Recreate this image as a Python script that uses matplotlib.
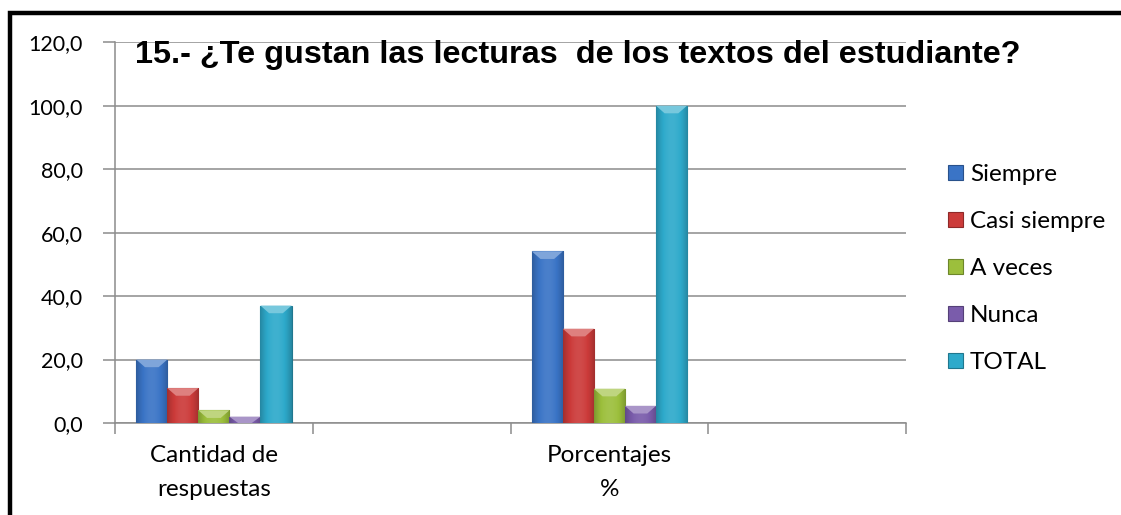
import numpy as np
import matplotlib
matplotlib.use("Agg")
import matplotlib.pyplot as plt
from matplotlib.patches import Rectangle
from matplotlib.ticker import FuncFormatter, MultipleLocator

categories = ["Cantidad de\nrespuestas", "", "Porcentajes\n%", ""]
series = ["Siempre", "Casi siempre", "A veces", "Nunca", "TOTAL"]
siempre = [20, np.nan, 54.1, np.nan]
casi_siempre = [11, np.nan, 29.7, np.nan]
a_veces = [4, np.nan, 10.8, np.nan]
nunca = [2, np.nan, 5.4, np.nan]
total = [37, np.nan, 100.0, np.nan]
values = [siempre, casi_siempre, a_veces, nunca, total]
colors = ["#3a74c6", "#cc3b3a", "#9cbf3c", "#7a5cab", "#2eaacb"]

plt.rcParams["font.family"] = ["Lato", "DejaVu Sans"]

fig = plt.figure(figsize=(11.21, 5.15), dpi=100)
ax = fig.add_axes([0.1026, 0.1786, 0.7056, 0.7394])

x = np.arange(len(categories))
width = 0.157
n = len(series)


def shade(c, f):
    rgb = np.array(matplotlib.colors.to_rgb(c))
    if f < 1:
        return rgb * f
    return rgb + (1 - rgb) * (f - 1)


for i, (name, vals, col) in enumerate(zip(series, values, colors)):
    pos = x + (i - (n - 1) / 2) * width
    bars = ax.bar(pos, vals, width, color=col, edgecolor=shade(col, 0.7),
                  linewidth=0.8, label=name, zorder=3)
    for b in bars:
        h = b.get_height()
        if not np.isfinite(h) or h <= 0:
            continue
        # horizontal gradient: darker at the edges, lighter in the middle
        t = np.linspace(-1, 1, 40)
        fac = 1.08 - 0.28 * t ** 2
        grad = np.array([shade(col, f) for f in fac])[None, :, :]
        im = ax.imshow(np.clip(grad, 0, 1), aspect="auto", zorder=3.5,
                       extent=(b.get_x(), b.get_x() + b.get_width(), 0, h))
        im.set_clip_path(b)
        # light bevel at top
        bev = min(h, 2.4)
        ax.fill([b.get_x(), b.get_x() + b.get_width(),
                 b.get_x() + b.get_width() * 0.72, b.get_x() + b.get_width() * 0.28],
                [h, h, h - bev, h - bev], color=shade(col, 1.35), zorder=4, lw=0)

ax.set_xlim(-0.5, len(categories) - 0.5)
ax.set_ylim(0, 120)
ax.set_aspect("auto")
ax.yaxis.set_major_locator(MultipleLocator(20))
ax.yaxis.set_major_formatter(FuncFormatter(lambda v, p: f"{v:.1f}".replace(".", ",")))
ax.grid(True, axis="y", color="#8c8c8c", linewidth=1.1, zorder=0)
ax.set_axisbelow(True)

ax.set_xticks(x)
ax.set_xticklabels(categories, fontsize=17.5, linespacing=1.75)
ax.set_xticks(np.arange(-0.5, len(categories)), minor=True)
ax.tick_params(axis="x", which="major", length=0, pad=16)
ax.tick_params(axis="x", which="minor", length=8, width=1.1, color="#8c8c8c")
ax.tick_params(axis="y", length=9, width=1.1, color="#8c8c8c", labelsize=15.5, pad=14)

for s in ["top", "right"]:
    ax.spines[s].set_visible(False)
for s in ["left", "bottom"]:
    ax.spines[s].set_color("#8c8c8c")
    ax.spines[s].set_linewidth(1.1)

fig.text(0.1205, 0.878, "15.- ¿Te gustan las lecturas  de los textos del estudiante?",
         fontsize=23.3, fontweight="bold", family="Liberation Sans", va="baseline")

handles = [Rectangle((0, 0), 1, 1, facecolor=c, edgecolor=shade(c, 0.7), lw=0.8) for c in colors]
fig.legend(handles, series, loc="upper left", bbox_to_anchor=(0.837, 0.7),
           frameon=False, fontsize=17.5, handlelength=0.6, handleheight=0.6,
           handletextpad=0.3, labelspacing=1.07, borderaxespad=0)

fig.add_artist(Rectangle((0.0089, -0.5), 1.5, 1.475, transform=fig.transFigure,
                         fill=False, edgecolor="black", linewidth=3.2))

fig.savefig("out.png", dpi=100)
